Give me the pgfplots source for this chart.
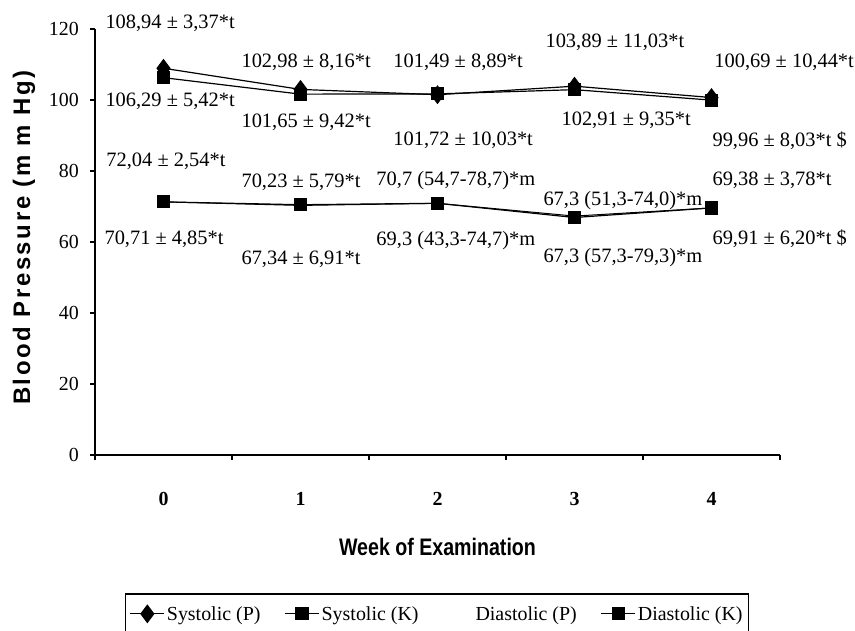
\documentclass[border=0pt]{standalone}
\usepackage{fontspec}
\setmainfont{Liberation Serif}
\newfontfamily\labfont[LetterSpace=11]{Liberation Sans}
\newfontfamily\narrowfont{Liberation Sans}
\usepackage{pgfplots}
\pgfplotsset{compat=1.18}
\usepackage{graphicx}

\pgfplotstableread{
week SysP   SysK   DiaP  DiaK
0    108.94 106.29 71.3  71.3
1    102.98 101.65 70.3  70.5
2    101.49 101.72 70.9  70.9
3    103.89 102.91 67.3  66.9
4    100.69 99.96  69.6  69.6
}\bpdata

\newcommand{\lab}{\fontsize{20.5}{22}\selectfont}

\begin{document}
\begin{tikzpicture}
\begin{axis}[
  scale only axis, width=685bp, height=426bp,
  xmin=-0.5, xmax=4.5, ymin=0, ymax=120,
  axis lines=left,
  axis line style={-, line width=1.6bp, black},
  clip=false,
  xtick={0,1,2,3,4},
  minor xtick={-0.5,0.5,1.5,2.5,3.5,4.5},
  ytick={0,20,40,60,80,100,120},
  tick align=outside,
  major tick length=5bp, minor tick length=5bp,
  major x tick style={draw=none},
  every tick/.style={line width=1.2bp, black},
  /pgf/number format/assume math mode=true,
  xticklabel style={font=\fontsize{20}{22}\selectfont\bfseries, anchor=center, yshift=-39bp},
  yticklabel style={font=\fontsize{20}{22}\selectfont, anchor=east, inner sep=0pt, xshift=-11bp},
  xlabel={\scalebox{0.82}[1]{Week of Examination}},
  xlabel style={font=\fontsize{24}{26}\selectfont\narrowfont\bfseries, at={(axis description cs:0.5,-0.216)}, anchor=center},
  ylabel={Blood Pressure (m m Hg)},
  ylabel style={font=\fontsize{24}{26}\selectfont\labfont\bfseries, at={(axis description cs:-0.1036,0.51)}, anchor=center, rotate=0},
  legend columns=4,
  legend cell align=left,
  legend style={at={(axis description cs:0.0438,-0.325)}, anchor=north west,
    draw=black, line width=1.5bp, inner xsep=4bp, inner ysep=10bp,
    font=\fontsize{20}{22}\selectfont,
    /tikz/every even column/.append style={column sep=22bp}},
  legend image code/.code={\draw[line width=1.2bp, mark repeat=2, mark phase=2] plot coordinates {(0bp,0bp) (17bp,0bp) (34bp,0bp)};},
]
\addplot[black, line width=1.2bp, mark=diamond*, mark size=8.5bp] table[x=week, y=SysP] {\bpdata};
\addlegendentry{Systolic (P)}
\addplot[black, line width=1.2bp, mark=square*, mark size=6bp] table[x=week, y=SysK] {\bpdata};
\addlegendentry{Systolic (K)}
\addplot[black, line width=1.0bp, mark=none, legend image code/.code={\path (0bp,0bp) (30bp,0bp);}] table[x=week, y=DiaP] {\bpdata};
\addlegendentry{Diastolic (P)}
\addplot[black, line width=1.2bp, mark=square*, mark size=6bp] table[x=week, y=DiaK] {\bpdata};
\addlegendentry{Diastolic (K)}

% data labels
\node[anchor=west, font=\lab] at (axis cs:-0.449,121.7) {108,94 ± 3,37*t};
\node[anchor=west, font=\lab] at (axis cs:-0.449,99.7) {106,29 ± 5,42*t};
\node[anchor=west, font=\lab] at (axis cs:-0.442,82.8) {72,04 ± 2,54*t};
\node[anchor=west, font=\lab] at (axis cs:-0.456,60.7) {70,71 ± 4,85*t};

\node[anchor=west, font=\lab] at (axis cs:0.544,110.7) {102,98 ± 8,16*t};
\node[anchor=west, font=\lab] at (axis cs:0.544,93.7) {101,65 ± 9,42*t};
\node[anchor=west, font=\lab] at (axis cs:0.544,76.8) {70,23 ± 5,79*t};
\node[anchor=west, font=\lab] at (axis cs:0.544,55.1) {67,34 ± 6,91*t};

\node[anchor=west, font=\lab] at (axis cs:1.653,110.6) {101,49 ± 8,89*t};
\node[anchor=west, font=\lab] at (axis cs:1.653,88.7) {101,72 ± 10,03*t};
\node[anchor=west, font=\lab] at (axis cs:1.529,77.2) {70,7 (54,7-78,7)*m};
\node[anchor=west, font=\lab] at (axis cs:1.529,60.3) {69,3 (43,3-74,7)*m};

\node[anchor=west, font=\lab] at (axis cs:2.763,116.2) {103,89 ± 11,03*t};
\node[anchor=west, font=\lab] at (axis cs:2.880,94.4) {102,91 ± 9,35*t};
\node[anchor=west, font=\lab] at (axis cs:2.748,71.8) {67,3 (51,3-74,0)*m};
\node[anchor=west, font=\lab] at (axis cs:2.748,55.5) {67,3 (57,3-79,3)*m};

\node[anchor=west, font=\lab] at (axis cs:3.996,110.6) {100,69 ± 10,44*t};
\node[anchor=west, font=\lab] at (axis cs:3.982,88.5) {99,96 ± 8,03*t \$};
\node[anchor=west, font=\lab] at (axis cs:3.982,77.5) {69,38 ± 3,78*t};
\node[anchor=west, font=\lab] at (axis cs:3.982,61.0) {69,91 ± 6,20*t \$};
\end{axis}
\pgfresetboundingbox
\useasboundingbox (-95bp,-176bp) rectangle (760bp,455bp);
\end{tikzpicture}
\end{document}
